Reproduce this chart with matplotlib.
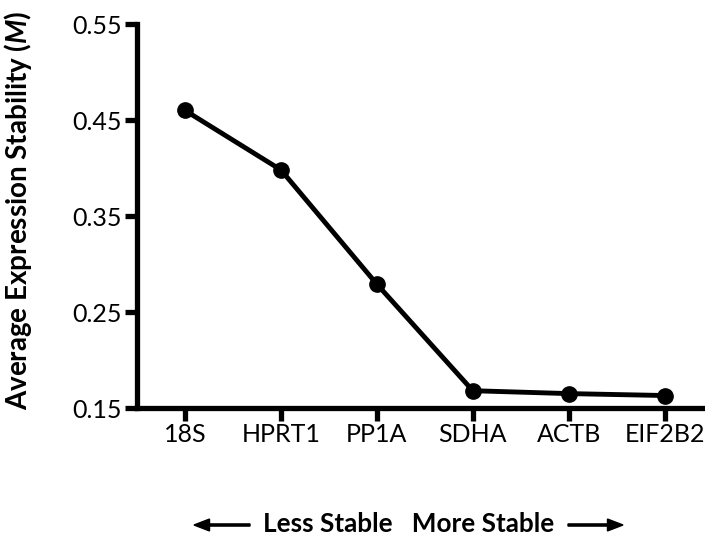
import numpy as np
import matplotlib
matplotlib.use('Agg')
import matplotlib.pyplot as plt

plt.rcParams['font.family'] = ['Lato', 'DejaVu Sans']
plt.rcParams['mathtext.fontset'] = 'custom'
plt.rcParams['mathtext.bfit'] = 'Lato:italic:bold'

genes = ['18S', 'HPRT1', 'PP1A', 'SDHA', 'ACTB', 'EIF2B2']
m_values = [0.460, 0.398, 0.279, 0.168, 0.165, 0.163]
yticks = [0.15, 0.25, 0.35, 0.45, 0.55]

fig = plt.figure(figsize=(7.05, 5.42), dpi=100)
ax = fig.add_axes([137/705, 1-408/542, 1-137/705, 384/542])

x = np.arange(len(genes))
ax.plot(x, m_values, color='black', lw=3.5, marker='o', ms=11, clip_on=False)

ax.set_xlim(-0.5, 5.42)
ax.set_ylim(0.15, 0.55)
ax.set_yticks(yticks)
ax.set_yticklabels(['%.2f' % t for t in yticks])
ax.set_xticks(x)
ax.set_xticklabels(genes)

for s in ['top', 'right']:
    ax.spines[s].set_visible(False)
for s in ['left', 'bottom']:
    ax.spines[s].set_linewidth(3.8)
ax.tick_params(width=3.8, length=9, labelsize=18, pad=2)

fig.text(18/705, 1-210/542, 'Average Expression Stability ($\\mathbfit{M}$)', rotation=90,
         ha='center', va='center', fontsize=20, fontweight='bold')

fig.text(409/705, 1-524/542, 'Less Stable   More Stable', ha='center', va='center',
         fontsize=18.8, fontweight='bold')
fig.patches.append(matplotlib.patches.FancyArrow(250/705, 1-525/542, -56/705, 0, width=0.004,
                   head_width=0.022, head_length=0.022, length_includes_head=True,
                   color='black', transform=fig.transFigure))
fig.patches.append(matplotlib.patches.FancyArrow(568/705, 1-525/542, 55/705, 0, width=0.004,
                   head_width=0.022, head_length=0.022, length_includes_head=True,
                   color='black', transform=fig.transFigure))

fig.savefig('out.png', dpi=100)
